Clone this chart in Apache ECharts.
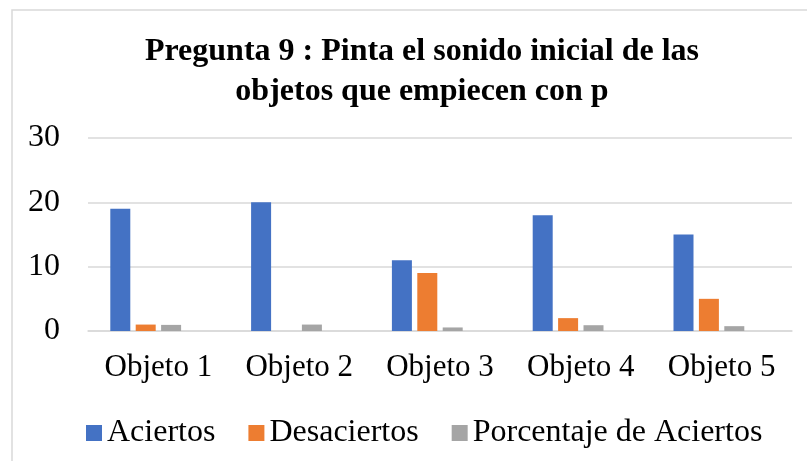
<!DOCTYPE html>
<html>
<head>
<meta charset="utf-8">
<title>Pregunta 9</title>
<script src="https://cdn.jsdelivr.net/npm/echarts@6/dist/echarts.min.js"></script>
<style>
    html, body { margin: 0; padding: 0; background: #fff; }
    #chart { width: 807px; height: 461px; }
</style>
</head>
<body>
<div id="chart"></div>
<script>
// datos del grafico
var categorias = ["Objeto 1", "Objeto 2", "Objeto 3", "Objeto 4", "Objeto 5"];
var aciertos = [19, 20, 11, 18, 15];
var desaciertos = [1, 0, 9, 2, 5];
var porcentaje = [0.95, 1, 0.55, 0.9, 0.75];
var vacio = [null, null, null, null, null]; // serie oculta del Excel original
var ticksY = [0, 10, 20, 30];

var fuente = "'Liberation Serif', 'Times New Roman', serif";

var chart = echarts.init(document.getElementById("chart"));

var option = {
    animation: false,
    title: {
        text: "Pregunta 9 : Pinta el sonido inicial de las\nobjetos que empiecen con p",
        left: 417,
        top: 27,
        textAlign: "center",
        textStyle: {
            fontFamily: fuente,
            fontWeight: "bold",
            fontSize: 32,
            lineHeight: 40,
            color: "#000"
        }
    },
    graphic: [{
        type: "rect",
        shape: { x: 12, y: 10, width: 800, height: 460 },
        style: { fill: "none", stroke: "#d9d9d9", lineWidth: 1.5 },
        silent: true
    }],
    legend: {
        data: ["Aciertos", "Desaciertos", "Porcentaje de Aciertos"],
        left: 81,
        top: 412,
        itemWidth: 16,
        itemHeight: 16,
        itemGap: 33,
        icon: "rect",
        textStyle: { fontFamily: fuente, fontSize: 32, color: "#000" }
    },
    grid: { left: 88, right: 15, top: 138, bottom: 130 },
    xAxis: {
        type: "category",
        data: categorias,
        axisTick: { show: false },
        axisLine: { lineStyle: { color: "#d9d9d9", width: 1.5 } },
        axisLabel: { interval: 0, fontFamily: fuente, fontSize: 31, color: "#000", margin: 21 }
    },
    yAxis: {
        type: "value",
        min: ticksY[0],
        max: ticksY[ticksY.length - 1],
        interval: 10,
        axisLine: { show: false },
        axisTick: { show: false },
        splitLine: { lineStyle: { color: "#d9d9d9", width: 1.5 } },
        axisLabel: { fontFamily: fuente, fontSize: 32, color: "#000", margin: 28 }
    },
    series: [
        { name: "Aciertos", type: "bar", data: aciertos, barWidth: 20, barGap: "27%", itemStyle: { color: "#4472c4" } },
        { name: "Desaciertos", type: "bar", data: desaciertos, barWidth: 20, barGap: "27%", itemStyle: { color: "#ed7d31" } },
        { name: "Porcentaje de Aciertos", type: "bar", data: porcentaje, barWidth: 20, barGap: "27%", itemStyle: { color: "#a5a5a5" } },
        { name: "", type: "bar", data: vacio, barWidth: 20, barGap: "27%", itemStyle: { color: "#ffc000" } }
    ]
};

chart.setOption(option);
</script>
</body>
</html>
